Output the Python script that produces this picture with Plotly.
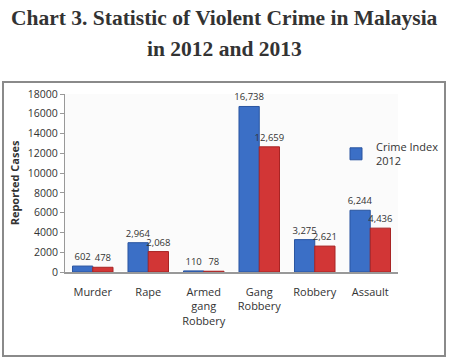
import plotly.graph_objects as go

categories = ["Murder", "Rape", "Armed<br>gang<br>Robbery", "Gang<br>Robbery", "Robbery", "Assault"]
crime_2012 = [602, 2964, 110, 16738, 3275, 6244]
crime_2013 = [478, 2068, 78, 12659, 2621, 4436]
y_ticks = [0, 2000, 4000, 6000, 8000, 10000, 12000, 14000, 16000, 18000]
title_lines = ["Chart 3. Statistic of Violent Crime in Malaysia", "in 2012 and 2013"]

font_fam = "Open Sans, Liberation Sans, sans-serif"

fig = go.Figure()
fig.add_trace(go.Bar(
    x=categories, y=crime_2012, name="Crime Index<br>2012",
    marker=dict(color="#3b6fc6", line=dict(color="#2a55a0", width=1)),
    text=[f"{v:,}" for v in crime_2012], textposition="outside",
    textfont=dict(size=9.5, color="#333"), cliponaxis=False,
))
fig.add_trace(go.Bar(
    x=categories, y=crime_2013, name="Crime Index 2013", showlegend=False,
    marker=dict(color="#d23636", line=dict(color="#a82424", width=1)),
    text=[f"{v:,}" for v in crime_2013], textposition="outside",
    textfont=dict(size=9.5, color="#333"), cliponaxis=False,
))

def py(pix):
    return (272 - pix) / 178

def px(pix):
    return (pix - 65) / 333

annotations = [
    dict(text=f"<b>{t}</b>", x=px(224.5), xref="paper", xanchor="center",
         y=py(yy), yref="paper", yanchor="middle", showarrow=False,
         font=dict(family="Liberation Serif, Times New Roman, serif", size=21.5, color="#333"))
    for t, yy in zip(title_lines, [18, 49])
]

fig.update_layout(
    width=449, height=358,
    margin=dict(l=65, r=51, t=94, b=86, autoexpand=False),
    paper_bgcolor="white", plot_bgcolor="#fbfbfb",
    barmode="group", bargap=0.27, bargroupgap=0,
    font=dict(family=font_fam, size=10, color="#333"),
    uniformtext=dict(mode="show", minsize=9.5),
    annotations=annotations,
    legend=dict(x=px(336), y=py(133), xanchor="left", yanchor="top",
                bgcolor="rgba(0,0,0,0)", font=dict(size=11, color="#333"),
                itemwidth=30, tracegroupgap=0),
    xaxis=dict(showline=True, linecolor="#999", linewidth=1.5, ticks="outside",
               ticklen=9, tickcolor="rgba(0,0,0,0)",
               tickfont=dict(size=11), showgrid=False),
    yaxis=dict(range=[0, 18000], tickvals=y_ticks, ticktext=[str(v) for v in y_ticks],
               showline=True, linecolor="#999",
               linewidth=1, ticks="outside", ticklen=4, tickcolor="#999",
               showgrid=False, tickfont=dict(size=10.5),
               title=dict(text="<b>Reported Cases</b>", font=dict(size=11), standoff=6)),
    shapes=[dict(type="rect", xref="paper", yref="paper",
                 x0=px(3), x1=px(445), y0=py(356), y1=py(82),
                 line=dict(color="#8a8a8a", width=2), fillcolor="rgba(0,0,0,0)", layer="below")],
)

fig.write_html("out.html")
